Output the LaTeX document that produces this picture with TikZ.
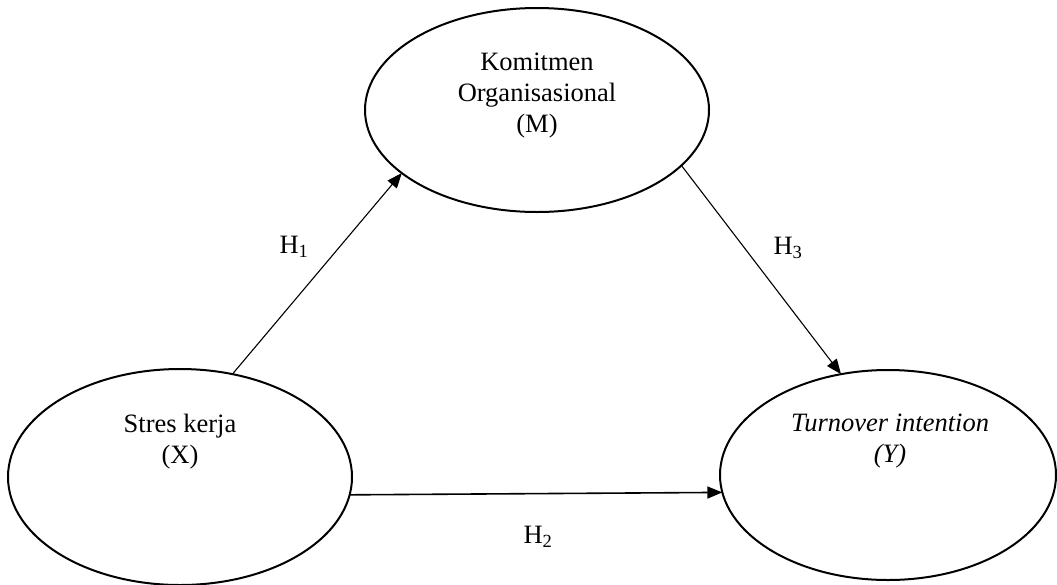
\documentclass[tikz,border=0pt]{standalone}
\usepackage{fontspec}
\setmainfont{Liberation Serif}
\usetikzlibrary{shapes.geometric,arrows.meta}
\begin{document}
\begin{tikzpicture}[x=1pt,y=-1pt,
  var/.style={draw,ellipse,line width=2pt,inner sep=0pt,outer sep=0pt},
  vtext/.style={align=center,inner sep=0pt,font=\fontsize{26.5}{31}\selectfont},
  hlab/.style={inner sep=0pt,font=\fontsize{26.5}{31}\selectfont},
  arr/.style={line width=1.1pt,-{Triangle[length=15pt,width=12pt]}}]
\useasboundingbox (0,0) rectangle (1057,584);
\node[var,minimum width=344pt,minimum height=204pt] (M) at (537,110) {};
\node[var,minimum width=344pt,minimum height=216pt] (X) at (180,477) {};
\node[var,minimum width=336pt,minimum height=210pt] (Y) at (888,475) {};
\node[vtext] (tM) at (537,96) {Komitmen\\Organisasional\\(M)};
\node[vtext] (tX) at (180,442) {Stres kerja\\(X)};
\node[vtext] (tY) at (890,441) {\itshape Turnover intention\\\itshape (Y)};
\draw[arr] (X.63) -- (M.205);
\draw[arr,line width=1.6pt] (X.-6.7) -- (Y.186);
\draw[arr] (M.-21.5) -- (Y.115);
\node[hlab] (h1) at (294,247) {H\textsubscript{1}};
\node[hlab] (h2) at (538,537) {H\textsubscript{2}};
\node[hlab] (h3) at (788,248) {H\textsubscript{3}};
\end{tikzpicture}
\end{document}
